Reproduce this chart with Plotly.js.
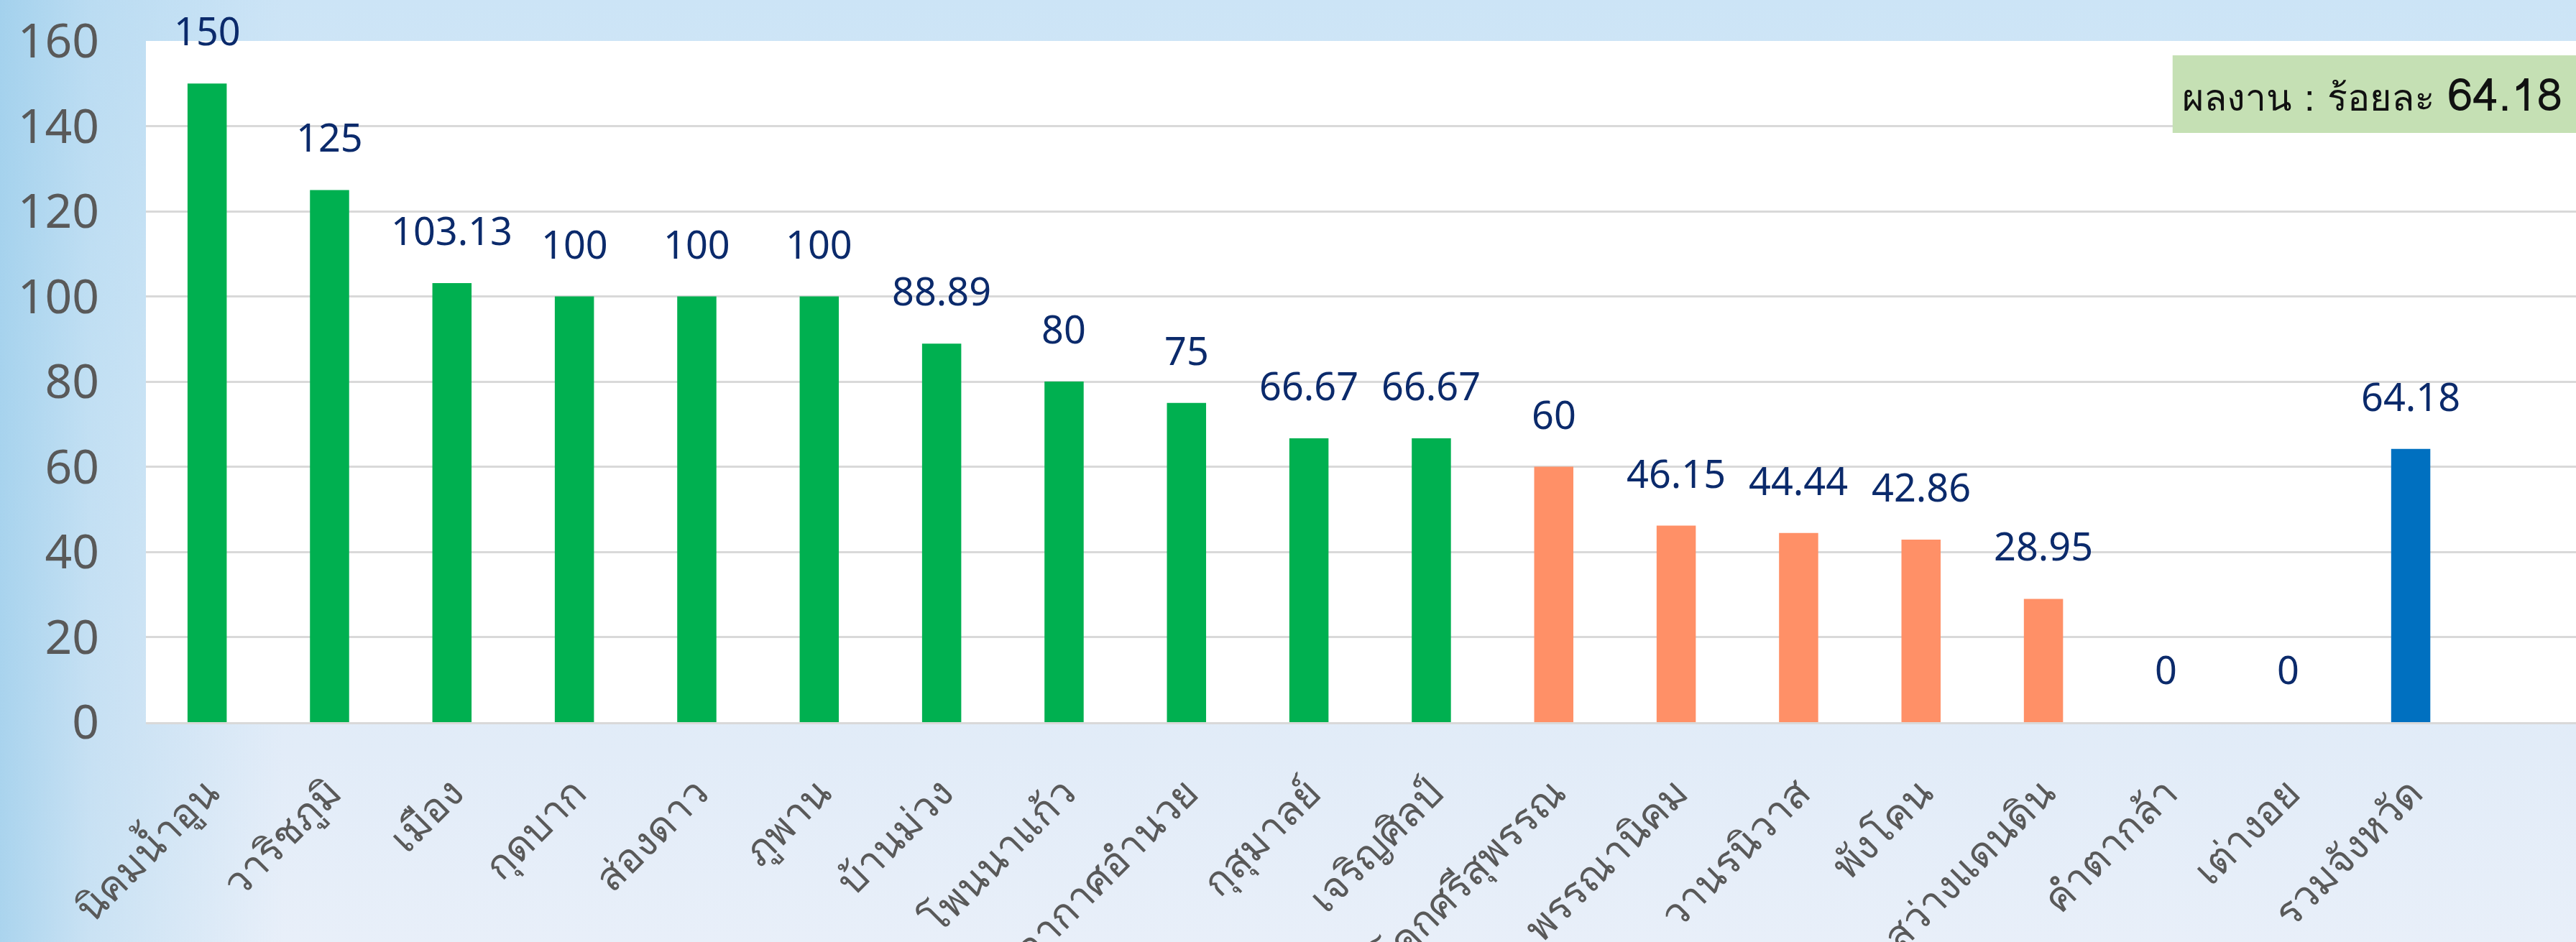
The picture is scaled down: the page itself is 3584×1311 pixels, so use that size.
<!DOCTYPE html>
<html>
<head>
<meta charset="utf-8">
<script src="https://cdn.plot.ly/plotly-3.0.1.min.js"></script>
<style>
  html, body { margin: 0; padding: 0; }
  body {
    width: 3584px; height: 1311px; overflow: hidden;
    background:
      linear-gradient(to right, rgba(150,203,234,0.75) 0%, rgba(165,210,237,0.45) 3.5%, rgba(200,225,245,0) 11%),
      linear-gradient(to bottom, #cce4f6 0%, #d8eaf8 40%, #e2ecf8 80%, #e8eff9 100%);
  }
  #chart { width: 3584px; height: 1311px; }
</style>
</head>
<body>
<div id="chart"></div>
<script>
// ---- data ----
const categories = ['นิคมน้ำอูน','วาริชภูมิ','เมือง','กุดบาก','ส่องดาว','ภูพาน','บ้านม่วง','โพนนาแก้ว','อากาศอำนวย','กุสุมาลย์','เจริญศิลป์','โคกศรีสุพรรณ','พรรณานิคม','วานรนิวาส','พังโคน','สว่างแดนดิน','คำตากล้า','เต่างอย','รวมจังหวัด'];
const values = [150, 125, 103.13, 100, 100, 100, 88.89, 80, 75, 66.67, 66.67, 60, 46.15, 44.44, 42.86, 28.95, 0, 0, 64.18];
const yTickValues = [0, 20, 40, 60, 80, 100, 120, 140, 160];
const summaryLabel = 'ผลงาน : ร้อยละ';

// ---- styles ----
const GREEN = '#00b050', ORANGE = '#ff9067', BLUE = '#0070c0';
const totalIndex = categories.length - 1;
const colors = values.map((v, i) => i === totalIndex ? BLUE : (v >= 65 ? GREEN : ORANGE));
const FONT = '"Noto Sans", "Noto Sans Thai", Tahoma, sans-serif';
const THAI_FONT = 'Loma, Garuda, "Noto Sans Thai Looped", "Noto Sans", "Noto Sans Thai", sans-serif';

const trace = {
  type: 'bar',
  x: categories,
  y: values,
  marker: { color: colors, line: { width: 0 } },
  hoverinfo: 'x+y'
};

const labelAnnotations = categories.map((c, i) => ({
  x: c, y: values[i], xref: 'x', yref: 'y',
  text: String(values[i]),
  showarrow: false, yanchor: 'bottom', xanchor: 'center',
  yshift: 36, borderpad: 0,
  font: { family: FONT, size: 54, color: '#0b2a6b' }
}));

const summary = {
  xref: 'paper', yref: 'paper', x: 0.995, y: 0.922,
  xanchor: 'right', yanchor: 'middle',
  showarrow: false,
  text: summaryLabel + ' <span style="font-size:64px">' + values[totalIndex] + '</span>',
  font: { family: THAI_FONT, size: 52, color: '#111111' }
};

const layout = {
  width: 3584, height: 1311,
  margin: { l: 203, r: 0, t: 57, b: 306 },
  paper_bgcolor: 'rgba(0,0,0,0)',
  plot_bgcolor: '#ffffff',
  showlegend: false,
  bargap: 0.68,
  xaxis: {
    type: 'category',
    range: [-0.5, 19.35],
    tickangle: -45,
    tickfont: { family: THAI_FONT, size: 56, color: '#595959' },
    ticks: '', ticklabelstandoff: 40,
    showline: true, linecolor: '#d9d9d9', linewidth: 3,
    showgrid: false, zeroline: false
  },
  yaxis: {
    range: [0, 160],
    tickvals: yTickValues,
    ticktext: yTickValues.map(String),
    tickfont: { family: FONT, size: 66, color: '#595959' },
    ticks: '', ticklabelstandoff: 64,
    showgrid: true, gridcolor: '#d9d9d9', gridwidth: 3,
    zeroline: false, showline: false
  },
  shapes: [{
    type: 'rect', xref: 'paper', yref: 'paper',
    x0: 0.834, x1: 1.0, y0: 0.865, y1: 0.979,
    fillcolor: '#c5e0b4', line: { width: 0 }, layer: 'above'
  }],
  annotations: labelAnnotations.concat([summary])
};

Plotly.newPlot('chart', [trace], layout, { displayModeBar: false, staticPlot: true });
</script>
</body>
</html>
